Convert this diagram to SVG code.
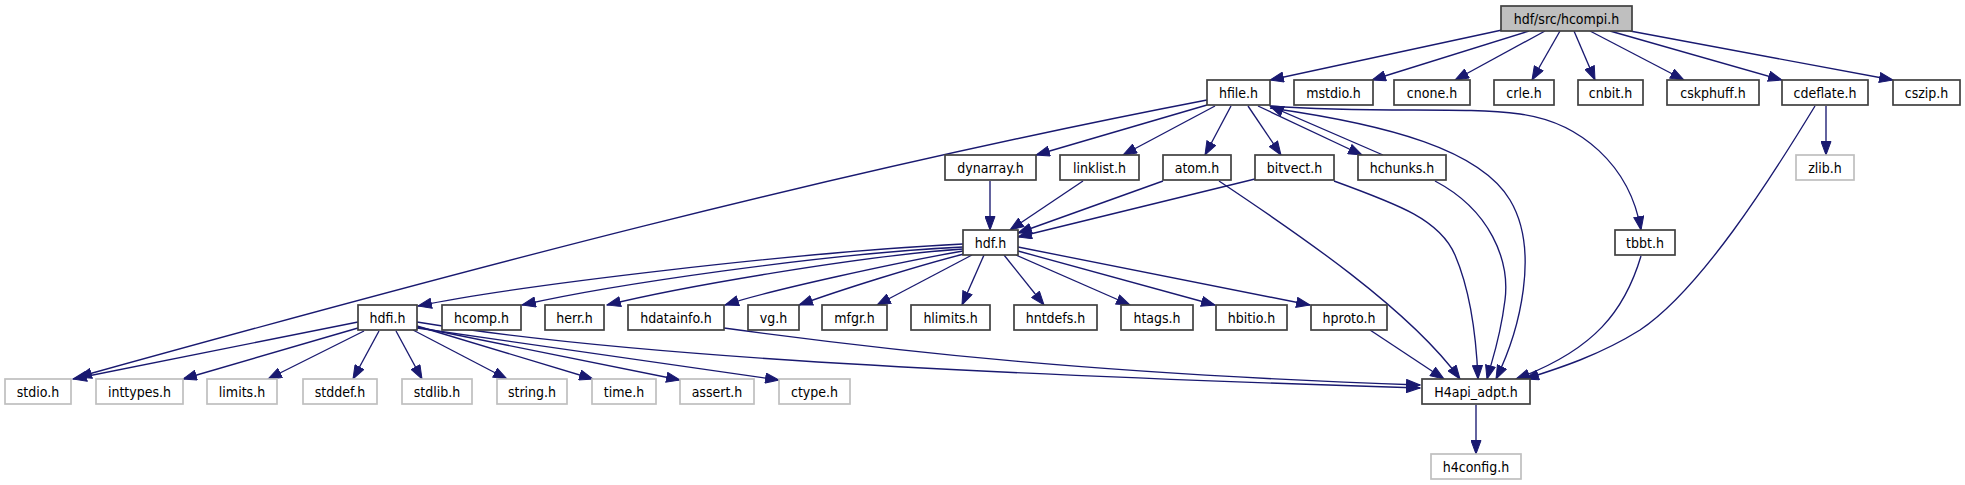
<svg xmlns="http://www.w3.org/2000/svg" width="1965" height="485" viewBox="0 0 1965 485">
<style>
rect{fill:#fff;stroke:#404040;stroke-width:1.7}
.g rect{stroke:#bfbfbf}
.root rect{fill:#bfbfbf}
text{font-family:"DejaVu Sans Condensed","DejaVu Sans",sans-serif;font-stretch:condensed;font-size:14px;text-anchor:middle;fill:#000}
#edges path{fill:none;stroke:#191970;stroke-width:1.35;marker-end:url(#a)}
</style>
<defs>
<marker id="a" markerUnits="userSpaceOnUse" markerWidth="15" markerHeight="11" viewBox="0 0 15 11" refX="14" refY="5.5" orient="auto">
<path d="M0.5,0.5 L14,5.5 L0.5,10.5 z" fill="#191970" stroke="#191970" stroke-width="1"/>
</marker>
</defs>
<rect x="0" y="0" width="1965" height="485" style="fill:#fff;stroke:none"/>
<g id="edges">
<path d="M1502,30 L1270,80"/>
<path d="M1529,31 L1372,80"/>
<path d="M1545,31 L1455,80"/>
<path d="M1560,31 L1532,80"/>
<path d="M1574,31 L1595,80"/>
<path d="M1590,31 L1684,80"/>
<path d="M1610,31 L1782,80"/>
<path d="M1630,31 L1893,80"/>
<path d="M1207,100 C827,173 460,271 78,377"/>
<path d="M1207,105 L1036,155"/>
<path d="M1215,106 L1123,155"/>
<path d="M1231,106 L1205,155"/>
<path d="M1248,106 L1281,155"/>
<path d="M1258,106 L1362,155"/>
<path d="M1383,155 L1270,106"/>
<path d="M1270,108 C1390,125 1480,150 1510,200 C1540,250 1520,330 1496,379"/>
<path d="M1270,106 C1380,114 1460,106 1520,114 C1580,122 1630,165 1641,230"/>
<path d="M990,181 L990,230"/>
<path d="M1083,181 L1010,230"/>
<path d="M1163,181 L1018,233"/>
<path d="M1255,179 L1018,237"/>
<path d="M1219,181 C1300,235 1410,310 1460,379"/>
<path d="M1334,181 C1400,205 1440,220 1455,255 C1470,290 1476,330 1478,379"/>
<path d="M1435,181 C1490,210 1510,260 1505,300 C1500,340 1492,360 1487,379"/>
<path d="M1641,256 C1625,310 1595,350 1516,379"/>
<path d="M1815,106 C1770,180 1700,290 1640,330 C1600,355 1560,368 1525,379"/>
<path d="M1826,106 L1826,155"/>
<path d="M963,244 C800,252 520,285 418,306"/>
<path d="M963,247 C820,254 610,285 522,305"/>
<path d="M963,249 C860,256 680,287 607,305"/>
<path d="M963,251 C900,262 770,290 725,305"/>
<path d="M964,254 C920,265 840,290 799,305"/>
<path d="M972,255 L877,305"/>
<path d="M984,255 L962,305"/>
<path d="M1004,255 L1044,305"/>
<path d="M1016,255 L1130,305"/>
<path d="M1018,251 L1215,305"/>
<path d="M1018,247 L1310,305"/>
<path d="M358,322 L73,379"/>
<path d="M358,328 L183,379"/>
<path d="M364,331 L268,379"/>
<path d="M379,331 L353,379"/>
<path d="M396,331 L422,379"/>
<path d="M413,330 L507,379"/>
<path d="M417,326 L593,379"/>
<path d="M417,327 L680,380"/>
<path d="M417,328 L779,380"/>
<path d="M417,322 C600,352 900,372 1420,388"/>
<path d="M724,328 C900,352 1100,374 1420,385"/>
<path d="M1370,330 L1444,379"/>
<path d="M1476,405 L1476,454"/>
</g>
<g id="n_hcompi" class="root"><rect x="1501" y="6" width="131" height="25"/><text x="1566.5" y="23.5">hdf/src/hcompi.h</text></g>
<g id="n_hfile"><rect x="1207" y="80" width="63" height="25"/><text x="1238.5" y="97.5">hfile.h</text></g>
<g id="n_mstdio"><rect x="1294" y="80" width="79" height="25"/><text x="1333.5" y="97.5">mstdio.h</text></g>
<g id="n_cnone"><rect x="1394" y="80" width="76" height="25"/><text x="1432" y="97.5">cnone.h</text></g>
<g id="n_crle"><rect x="1494" y="80" width="60" height="25"/><text x="1524" y="97.5">crle.h</text></g>
<g id="n_cnbit"><rect x="1578" y="80" width="65" height="25"/><text x="1610.5" y="97.5">cnbit.h</text></g>
<g id="n_cskphuff"><rect x="1667" y="80" width="92" height="25"/><text x="1713" y="97.5">cskphuff.h</text></g>
<g id="n_cdeflate"><rect x="1782" y="80" width="86" height="25"/><text x="1825" y="97.5">cdeflate.h</text></g>
<g id="n_cszip"><rect x="1893" y="80" width="67" height="25"/><text x="1926.5" y="97.5">cszip.h</text></g>
<g id="n_dynarray"><rect x="945" y="155" width="91" height="25"/><text x="990.5" y="172.5">dynarray.h</text></g>
<g id="n_linklist"><rect x="1060" y="155" width="79" height="25"/><text x="1099.5" y="172.5">linklist.h</text></g>
<g id="n_atom"><rect x="1163" y="155" width="68" height="25"/><text x="1197" y="172.5">atom.h</text></g>
<g id="n_bitvect"><rect x="1255" y="155" width="79" height="25"/><text x="1294.5" y="172.5">bitvect.h</text></g>
<g id="n_hchunks"><rect x="1358" y="155" width="88" height="25"/><text x="1402" y="172.5">hchunks.h</text></g>
<g id="n_zlib" class="g"><rect x="1796" y="155" width="58" height="25"/><text x="1825" y="172.5">zlib.h</text></g>
<g id="n_hdf"><rect x="963" y="230" width="55" height="25"/><text x="990.5" y="247.5">hdf.h</text></g>
<g id="n_tbbt"><rect x="1615" y="230" width="60" height="25"/><text x="1645" y="247.5">tbbt.h</text></g>
<g id="n_hdfi"><rect x="358" y="305" width="59" height="25"/><text x="387.5" y="322.5">hdfi.h</text></g>
<g id="n_hcomp"><rect x="442" y="305" width="79" height="25"/><text x="481.5" y="322.5">hcomp.h</text></g>
<g id="n_herr"><rect x="545" y="305" width="59" height="25"/><text x="574.5" y="322.5">herr.h</text></g>
<g id="n_hdatainfo"><rect x="628" y="305" width="96" height="25"/><text x="676" y="322.5">hdatainfo.h</text></g>
<g id="n_vg"><rect x="748" y="305" width="51" height="25"/><text x="773.5" y="322.5">vg.h</text></g>
<g id="n_mfgr"><rect x="822" y="305" width="65" height="25"/><text x="854.5" y="322.5">mfgr.h</text></g>
<g id="n_hlimits"><rect x="911" y="305" width="79" height="25"/><text x="950.5" y="322.5">hlimits.h</text></g>
<g id="n_hntdefs"><rect x="1014" y="305" width="83" height="25"/><text x="1055.5" y="322.5">hntdefs.h</text></g>
<g id="n_htags"><rect x="1121" y="305" width="72" height="25"/><text x="1157" y="322.5">htags.h</text></g>
<g id="n_hbitio"><rect x="1216" y="305" width="71" height="25"/><text x="1251.5" y="322.5">hbitio.h</text></g>
<g id="n_hproto"><rect x="1311" y="305" width="76" height="25"/><text x="1349" y="322.5">hproto.h</text></g>
<g id="n_stdio" class="g"><rect x="5" y="379" width="66" height="25"/><text x="38" y="396.5">stdio.h</text></g>
<g id="n_inttypes" class="g"><rect x="96" y="379" width="87" height="25"/><text x="139.5" y="396.5">inttypes.h</text></g>
<g id="n_limits" class="g"><rect x="207" y="379" width="70" height="25"/><text x="242" y="396.5">limits.h</text></g>
<g id="n_stddef" class="g"><rect x="303" y="379" width="74" height="25"/><text x="340" y="396.5">stddef.h</text></g>
<g id="n_stdlib" class="g"><rect x="402" y="379" width="70" height="25"/><text x="437" y="396.5">stdlib.h</text></g>
<g id="n_string" class="g"><rect x="497" y="379" width="70" height="25"/><text x="532" y="396.5">string.h</text></g>
<g id="n_time" class="g"><rect x="592" y="379" width="64" height="25"/><text x="624" y="396.5">time.h</text></g>
<g id="n_assert" class="g"><rect x="680" y="379" width="74" height="25"/><text x="717" y="396.5">assert.h</text></g>
<g id="n_ctype" class="g"><rect x="779" y="379" width="71" height="25"/><text x="814.5" y="396.5">ctype.h</text></g>
<g id="n_H4api"><rect x="1422" y="379" width="108" height="25"/><text x="1476" y="396.5">H4api_adpt.h</text></g>
<g id="n_h4config" class="g"><rect x="1431" y="454" width="90" height="25"/><text x="1476" y="471.5">h4config.h</text></g>
</svg>
